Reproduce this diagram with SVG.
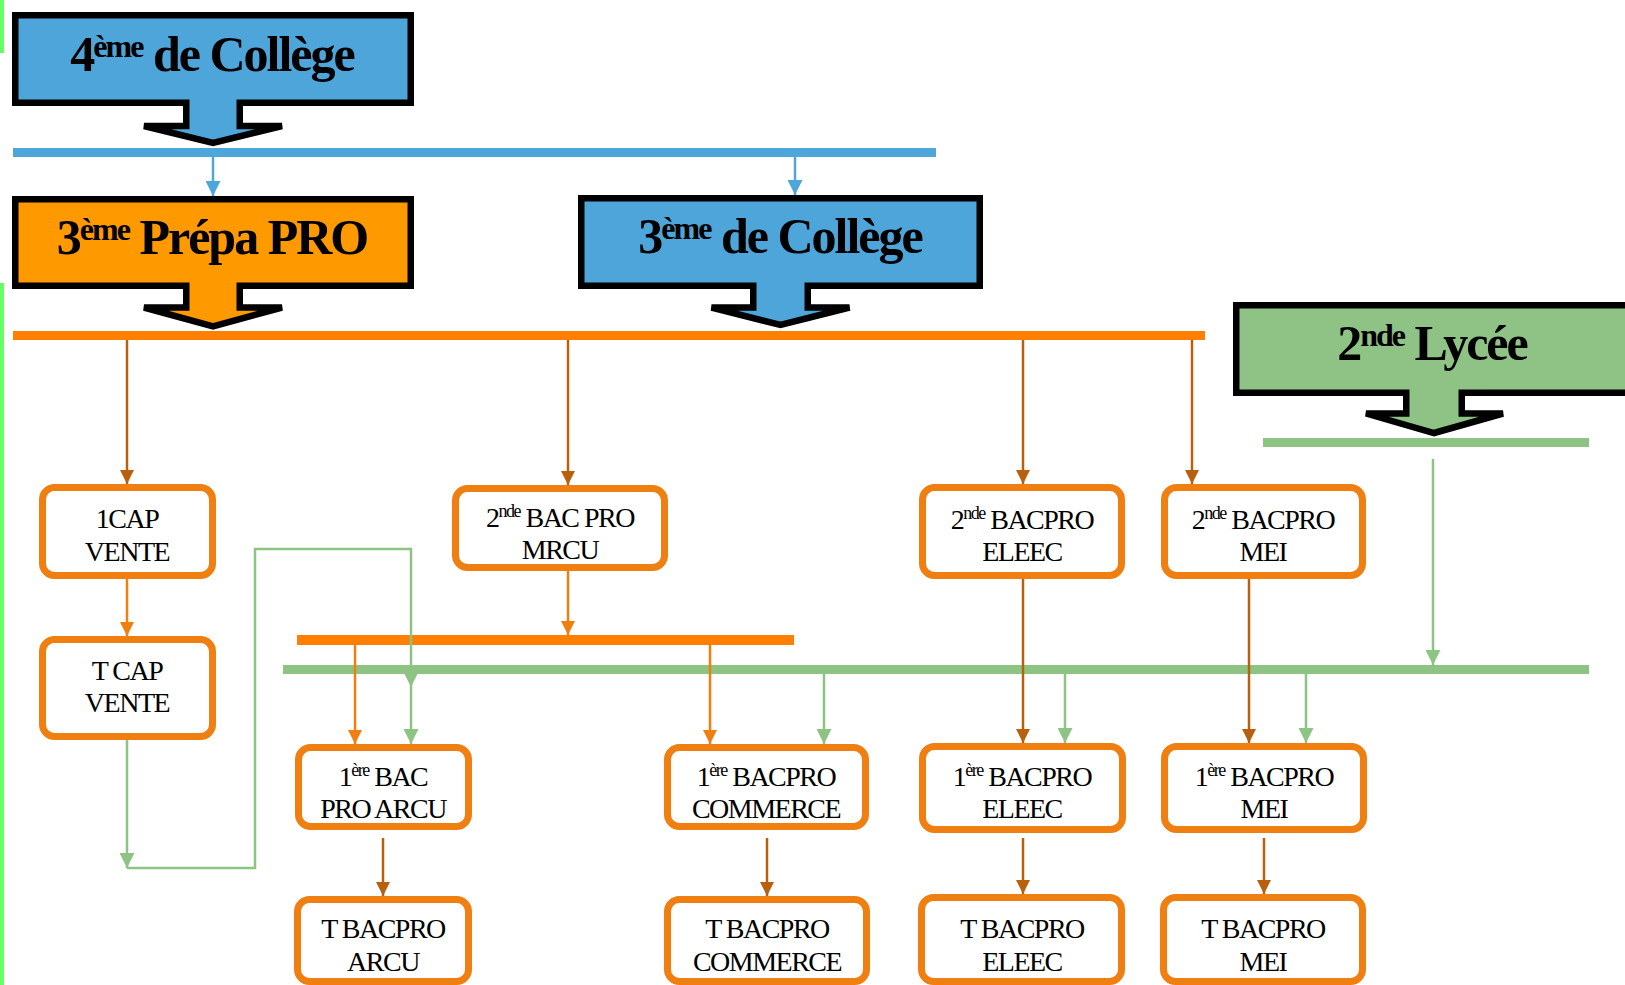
<svg xmlns="http://www.w3.org/2000/svg" width="1625" height="985" viewBox="0 0 1625 985">
<style>
.hdr{stroke:#000;stroke-width:6.5;stroke-linejoin:miter}
.ht{font-family:"Liberation Serif","Times New Roman",serif;font-weight:bold;font-size:50px;letter-spacing:-2px;fill:#000;text-anchor:middle}
.hs{font-size:32px}
.box{fill:#fff;stroke:#EF7F10;stroke-width:7}
.bt{font-family:"Liberation Serif","Times New Roman",serif;font-size:28px;letter-spacing:-1.5px;fill:#000;text-anchor:middle}
.bs{font-size:18px}
.c{fill:none;stroke-width:2.5}
.brown{stroke:#B8600E}
.orange{stroke:#F07F10}
.green{stroke:#8DC383}
.blue{stroke:#4FA6DA}
</style>
<defs>
<marker id="ab" viewBox="0 0 14 14" markerWidth="14" markerHeight="14" refX="14" refY="7" orient="auto" markerUnits="userSpaceOnUse"><path d="M0,0 L14,7 L0,14 z" fill="#B8600E"/></marker>
<marker id="ao" viewBox="0 0 14 14" markerWidth="14" markerHeight="14" refX="14" refY="7" orient="auto" markerUnits="userSpaceOnUse"><path d="M0,0 L14,7 L0,14 z" fill="#F07F10"/></marker>
<marker id="ag" viewBox="0 0 14 14" markerWidth="15" markerHeight="15" refX="14" refY="7" orient="auto" markerUnits="userSpaceOnUse"><path d="M0,0 L14,7 L0,14 z" fill="#8DC383"/></marker>
<marker id="al" viewBox="0 0 14 14" markerWidth="15" markerHeight="15" refX="14" refY="7" orient="auto" markerUnits="userSpaceOnUse"><path d="M0,0 L14,7 L0,14 z" fill="#4FA6DA"/></marker>
</defs>
<rect width="1625" height="985" fill="#fff"/>
<rect x="0" y="0" width="4" height="53" fill="#66FF66"/>
<rect x="0" y="283" width="4" height="702" fill="#66FF66"/>

<g id="buses">
<line x1="13" y1="152.5" x2="936" y2="152.5" stroke="#4FA6DA" stroke-width="9"/>
<line x1="13" y1="335.5" x2="1205" y2="335.5" stroke="#FF8000" stroke-width="9"/>
<line x1="1263" y1="442.5" x2="1589" y2="442.5" stroke="#8DC383" stroke-width="9"/>
<line x1="297" y1="640" x2="794" y2="640" stroke="#FF8000" stroke-width="10"/>
<line x1="283" y1="669.5" x2="1589" y2="669.5" stroke="#8DC383" stroke-width="9"/>
</g>

<g id="connectors">
<path class="c blue" d="M213,157 V196" marker-end="url(#al)"/>
<path class="c blue" d="M795,157 V195" marker-end="url(#al)"/>
<path class="c brown" d="M127,340 V484" marker-end="url(#ab)"/>
<path class="c brown" d="M568,340 V485" marker-end="url(#ab)"/>
<path class="c brown" d="M1023,340 V484" marker-end="url(#ab)"/>
<path class="c brown" d="M1192,340 V484" marker-end="url(#ab)"/>
<path class="c brown" d="M1023,579 V743" marker-end="url(#ab)"/>
<path class="c brown" d="M1249,579 V743" marker-end="url(#ab)"/>
<path class="c brown" d="M383,838 V896" marker-end="url(#ab)"/>
<path class="c brown" d="M767,838 V896" marker-end="url(#ab)"/>
<path class="c brown" d="M1023,838 V894" marker-end="url(#ab)"/>
<path class="c brown" d="M1264,838 V894" marker-end="url(#ab)"/>
<path class="c orange" d="M127,579 V636" marker-end="url(#ao)"/>
<path class="c orange" d="M568,571 V635" marker-end="url(#ao)"/>
<path class="c orange" d="M355,645 V744" marker-end="url(#ao)"/>
<path class="c orange" d="M710,645 V744" marker-end="url(#ao)"/>
<path class="c green" d="M1433,459 V665" marker-end="url(#ag)"/>
<path class="c green" d="M824,674 V744" marker-end="url(#ag)"/>
<path class="c green" d="M1065,674 V743" marker-end="url(#ag)"/>
<path class="c green" d="M1306,674 V743" marker-end="url(#ag)"/>
<path class="c green" d="M127,740 V868" marker-end="url(#ag)"/>
<path class="c green" d="M127,868 H255 V549 H411 V744" marker-end="url(#ag)"/>
<polygon points="404,673 418,673 411,687" fill="#8DC383"/>
</g>

<g id="h4">
<path class="hdr" fill="#4DA5D9" d="M15.25,15.25 H410.75 V102.75 H239.75 V126 H282 L213,143 L144,126 H186.25 V102.75 H15.25 Z"/>
<text class="ht" x="212" y="71">4<tspan class="hs" dy="-14">ème</tspan><tspan dy="14"> de Collège</tspan></text>
</g>
<g id="h3pro">
<path class="hdr" fill="#FF9900" d="M15.25,199.25 H410.75 V285.75 H239.75 V307.5 H282 L213,326.5 L144,307.5 H186.25 V285.75 H15.25 Z"/>
<text class="ht" x="212" y="254">3<tspan class="hs" dy="-14">ème</tspan><tspan dy="14"> Prépa PRO</tspan></text>
</g>
<g id="h3col">
<path class="hdr" fill="#4DA5D9" d="M581.25,198.25 H979.75 V285.75 H807.75 V307.5 H849.5 L780.5,325 L711.5,307.5 H753.25 V285.75 H581.25 Z"/>
<text class="ht" x="780" y="253">3<tspan class="hs" dy="-14">ème</tspan><tspan dy="14"> de Collège</tspan></text>
</g>
<g id="h2lyc">
<path class="hdr" fill="#8FC386" d="M1236.25,305.25 H1640 V392.75 H1461.75 V413.5 H1503 L1434,433 L1366,413.5 H1406.25 V392.75 H1236.25 Z"/>
<text class="ht" x="1432" y="360">2<tspan class="hs" dy="-14">nde</tspan><tspan dy="14"> Lycée</tspan></text>
</g>

<g id="n1cap">
<rect class="box" x="42.5" y="487.5" width="170" height="88" rx="12"/>
<text class="bt" x="127" y="528">1CAP</text>
<text class="bt" x="127" y="561">VENTE</text>
</g>
<g id="ntcap">
<rect class="box" x="42.5" y="639.5" width="170" height="97" rx="12"/>
<text class="bt" x="127" y="680">T CAP</text>
<text class="bt" x="127" y="712">VENTE</text>
</g>
<g id="nmrcu">
<rect class="box" x="455.5" y="488.5" width="209" height="79" rx="12"/>
<text class="bt" x="560" y="527">2<tspan class="bs" dy="-10">nde</tspan><tspan dy="10"> BAC PRO</tspan></text>
<text class="bt" x="560" y="559">MRCU</text>
</g>
<g id="n2eleec">
<rect class="box" x="922.5" y="487.5" width="199" height="88" rx="12"/>
<text class="bt" x="1022" y="529">2<tspan class="bs" dy="-10">nde</tspan><tspan dy="10"> BACPRO</tspan></text>
<text class="bt" x="1022" y="561">ELEEC</text>
</g>
<g id="n2mei">
<rect class="box" x="1164.5" y="487.5" width="198" height="88" rx="12"/>
<text class="bt" x="1263" y="529">2<tspan class="bs" dy="-10">nde</tspan><tspan dy="10"> BACPRO</tspan></text>
<text class="bt" x="1263" y="561">MEI</text>
</g>
<g id="n1arcu">
<rect class="box" x="298.5" y="747.5" width="170" height="79" rx="12"/>
<text class="bt" x="383" y="786">1<tspan class="bs" dy="-10">ère</tspan><tspan dy="10"> BAC</tspan></text>
<text class="bt" x="383" y="818">PRO ARCU</text>
</g>
<g id="n1com">
<rect class="box" x="667.5" y="747.5" width="198" height="79" rx="12"/>
<text class="bt" x="766" y="786">1<tspan class="bs" dy="-10">ère</tspan><tspan dy="10"> BACPRO</tspan></text>
<text class="bt" x="766" y="818">COMMERCE</text>
</g>
<g id="n1eleec">
<rect class="box" x="922.5" y="746.5" width="200" height="83" rx="12"/>
<text class="bt" x="1022" y="786">1<tspan class="bs" dy="-10">ère</tspan><tspan dy="10"> BACPRO</tspan></text>
<text class="bt" x="1022" y="818">ELEEC</text>
</g>
<g id="n1mei">
<rect class="box" x="1164.5" y="746.5" width="199" height="83" rx="12"/>
<text class="bt" x="1264" y="786">1<tspan class="bs" dy="-10">ère</tspan><tspan dy="10"> BACPRO</tspan></text>
<text class="bt" x="1264" y="818">MEI</text>
</g>
<g id="ntarcu">
<rect class="box" x="297.5" y="899.5" width="171" height="82" rx="12"/>
<text class="bt" x="383" y="938">T BACPRO</text>
<text class="bt" x="383" y="971">ARCU</text>
</g>
<g id="ntcom">
<rect class="box" x="667.5" y="899.5" width="199" height="82" rx="12"/>
<text class="bt" x="767" y="938">T BACPRO</text>
<text class="bt" x="767" y="971">COMMERCE</text>
</g>
<g id="nteleec">
<rect class="box" x="921.5" y="897.5" width="200" height="84" rx="12"/>
<text class="bt" x="1022" y="938">T BACPRO</text>
<text class="bt" x="1022" y="971">ELEEC</text>
</g>
<g id="ntmei">
<rect class="box" x="1163.5" y="897.5" width="199" height="84" rx="12"/>
<text class="bt" x="1263" y="938">T BACPRO</text>
<text class="bt" x="1263" y="971">MEI</text>
</g>
</svg>
